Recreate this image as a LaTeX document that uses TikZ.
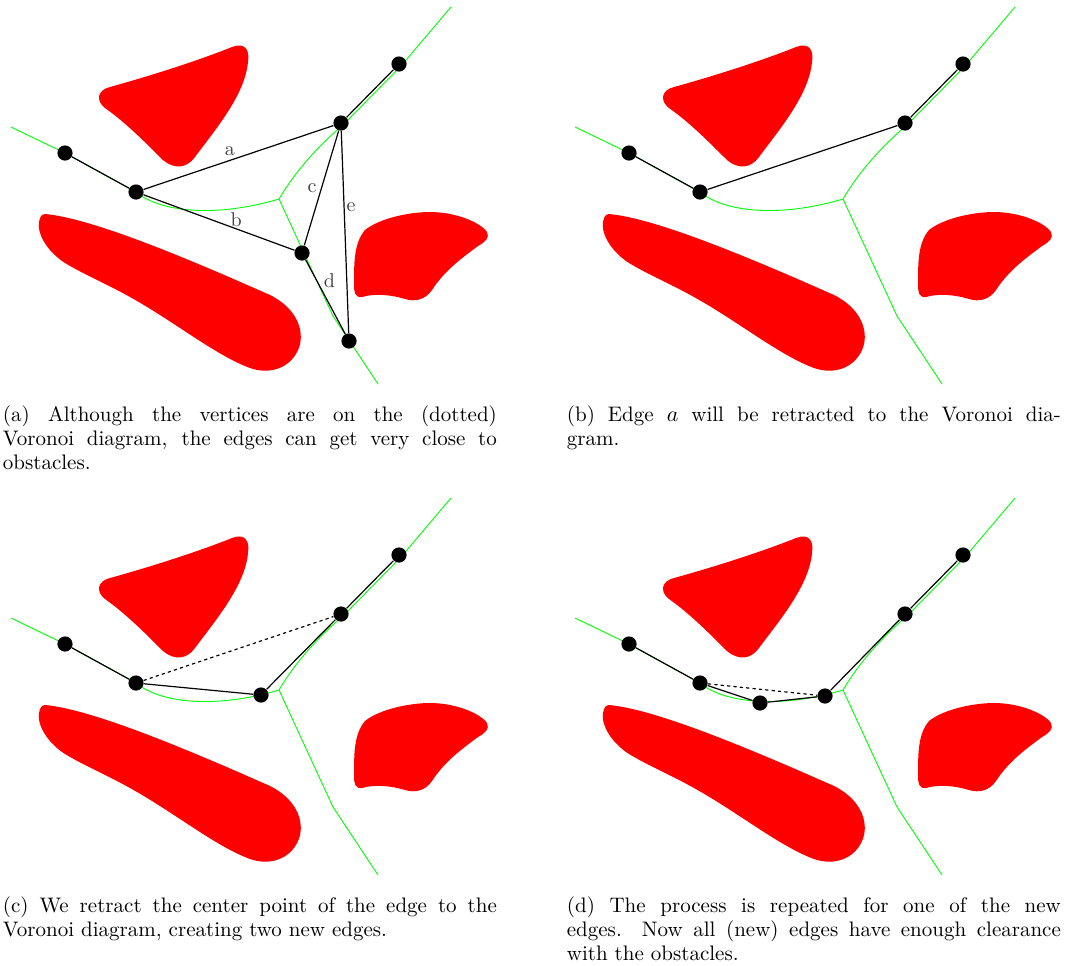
\documentclass[tikz,border=0pt]{standalone}
\definecolor{vgreen}{RGB}{0,255,0}

% obstacles and Voronoi diagram shared by all four panels
\newcommand\voronoiscene{%
  \path[obstacle] (110,87) .. controls (150,76) and (200,60) .. (232,47)
    .. controls (245,42) and (250,50) .. (248,62)
    .. controls (245,95) and (215,130) .. (195,157)
    .. controls (187,168) and (175,170) .. (163,160)
    .. controls (145,142) and (125,122) .. (105,108)
    .. controls (95,100) and (98,90) .. (110,87) -- cycle;
  \path[obstacle] (45,214) .. controls (90,218) and (180,255) .. (270,295)
    .. controls (300,310) and (305,335) .. (298,350)
    .. controls (290,368) and (270,375) .. (250,368)
    .. controls (215,355) and (175,322) .. (130,297)
    .. controls (105,283) and (85,275) .. (65,263)
    .. controls (45,250) and (35,230) .. (40,218)
    .. controls (41,215) and (43,214) .. (45,214) -- cycle;
  \path[obstacle] (365,230) .. controls (380,218) and (410,212) .. (430,212)
    .. controls (455,212) and (480,222) .. (487,232)
    .. controls (490,238) and (485,242) .. (478,246)
    .. controls (462,258) and (445,270) .. (432,290)
    .. controls (425,300) and (415,302) .. (405,299)
    .. controls (392,295) and (375,293) .. (362,297)
    .. controls (355,298) and (354,292) .. (354,285)
    .. controls (354,262) and (354,243) .. (365,230) -- cycle;
  \draw[voronoi] (11,127) -- (65,153) -- (136,192)
    .. controls (160,212) and (215,218) .. (279,199);
  \draw[voronoi] (279,199) .. controls (295,172) and (317,147) .. (343,125)
    -- (401,66) -- (451,7);
  \draw[voronoi] (279,199) -- (333,316) -- (378,384);
}

\begin{document}
\begin{tikzpicture}[x=0.5pt, y=-0.5pt,
  obstacle/.style={fill=red, draw=none},
  voronoi/.style={draw=vgreen, line width=0.45pt},
  edge/.style={draw=black, line width=0.6pt},
  retracted/.style={edge, dash pattern=on 1.6pt off 1.6pt},
  vertex/.style={circle, fill=black, inner sep=0pt, minimum size=7.6pt},
  lbl/.style={text=black!75, inner sep=0pt},
  subcap/.style={text width=247pt, align=justify, inner sep=0pt, anchor=base west,
    font=\fontsize{10.5pt}{12pt}\selectfont}]
\useasboundingbox (0,0) rectangle (1065,965);

% (a) initial roadmap
\begin{scope}
  \voronoiscene
  \node[vertex] (a1) at (65,153) {};
  \node[vertex] (a2) at (136,192) {};
  \node[vertex] (a3) at (341,123) {};
  \node[vertex] (a4) at (399,64) {};
  \node[vertex] (a5) at (302,253) {};
  \node[vertex] (a6) at (349,341) {};
  \draw[edge] (a1) -- (a2);
  \draw[edge] (a2) -- node[lbl, pos=0.454, yshift=4.85pt] {a} (a3);
  \draw[edge] (a2) -- node[lbl, pos=0.614, yshift=4.75pt] {b} (a5);
  \draw[edge] (a5) -- node[lbl, pos=0.5, xshift=-4.75pt] {c} (a3);
  \draw[edge] (a3) -- node[lbl, pos=0.376, xshift=3.5pt] {e} (a6);
  \draw[edge] (a5) -- node[lbl, pos=0.273, xshift=6.5pt] {d} (a6);
  \draw[edge] (a3) -- (a4);
  \node[subcap] (capa) at (2.5,421) {(a) Although the vertices are on the (dotted)\linebreak
    Voronoi diagram, the edges can get very close to\linebreak obstacles.};
\end{scope}

% (b) edge a selected
\begin{scope}[shift={(564,0)}]
  \voronoiscene
  \node[vertex] (b1) at (65,153) {};
  \node[vertex] (b2) at (136,192) {};
  \node[vertex] (b3) at (341,123) {};
  \node[vertex] (b4) at (399,64) {};
  \draw[edge] (b1) -- (b2);
  \draw[edge] (b2) -- (b3);
  \draw[edge] (b3) -- (b4);
  \node[subcap] (capb) at (2.5,421) {(b) Edge $a$ will be retracted to the Voronoi dia-\linebreak gram.};
\end{scope}

% (c) first retraction
\begin{scope}[shift={(0,491)}]
  \voronoiscene
  \node[vertex] (c1) at (65,153) {};
  \node[vertex] (c2) at (136,192) {};
  \node[vertex] (c3) at (341,123) {};
  \node[vertex] (c4) at (399,64) {};
  \node[vertex] (c5) at (261,204) {};
  \draw[edge] (c1) -- (c2);
  \draw[retracted] (c2) -- (c3);
  \draw[edge] (c2) -- (c5);
  \draw[edge] (c5) -- (c3);
  \draw[edge] (c3) -- (c4);
  \node[subcap] (capc) at (2.5,421) {(c) We retract the center point of the edge to the\linebreak
    Voronoi diagram, creating two new edges.};
\end{scope}

% (d) second retraction
\begin{scope}[shift={(564,491)}]
  \voronoiscene
  \node[vertex] (d1) at (65,153) {};
  \node[vertex] (d2) at (136,192) {};
  \node[vertex] (d3) at (341,123) {};
  \node[vertex] (d4) at (399,64) {};
  \node[vertex] (d5) at (261,205) {};
  \node[vertex] (d6) at (196,212) {};
  \draw[edge] (d1) -- (d2);
  \draw[retracted] (d2) -- (d5);
  \draw[edge] (d2) -- (d6);
  \draw[edge] (d6) -- (d5);
  \draw[edge] (d5) -- (d3);
  \draw[edge] (d3) -- (d4);
  \node[subcap] (capd) at (2.5,421) {(d) The process is repeated for one of the new\linebreak
    edges. Now all (new) edges have enough clearance\linebreak with the obstacles.};
\end{scope}
\end{tikzpicture}
\end{document}
